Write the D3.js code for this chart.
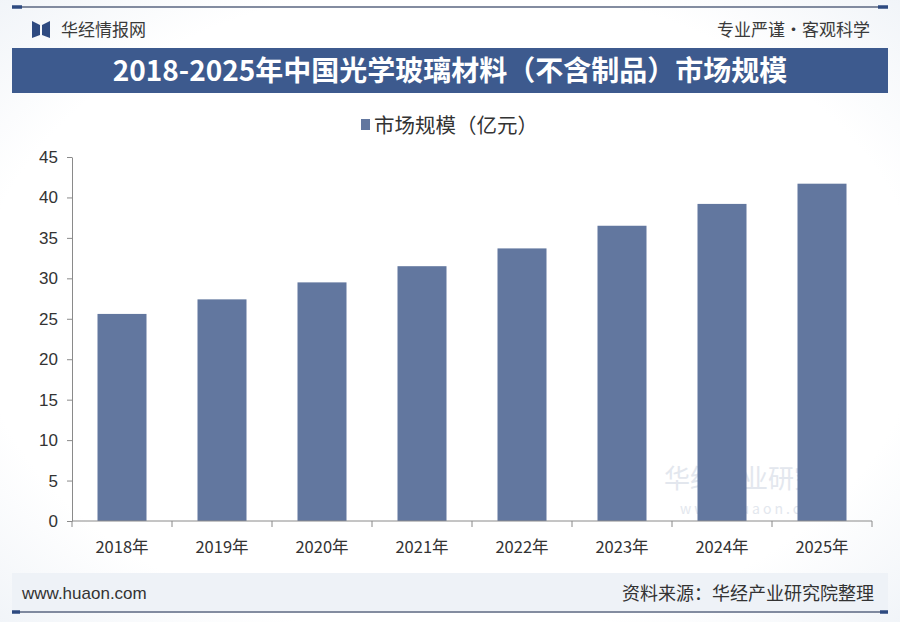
<!DOCTYPE html>
<html>
<head>
<meta charset="utf-8">
<script src="https://cdn.jsdelivr.net/npm/d3@7"></script>
<style>
  body { margin: 0; background: #ffffff; }
  svg { display: block; font-family: "Noto Sans CJK SC", "Noto Sans", sans-serif; }
</style>
</head>
<body>
<div id="chart"></div>
<script>
// data
const years = ["2018年", "2019年", "2020年", "2021年", "2022年", "2023年", "2024年", "2025年"];
const marketSize = [25.6, 27.4, 29.5, 31.5, 33.7, 36.5, 39.2, 41.7];
const yTicks = [0, 5, 10, 15, 20, 25, 30, 35, 40, 45];

const W = 900, H = 622;
const margin = { top: 157, right: 28, bottom: 101, left: 72 },
    width = W - margin.left - margin.right,
    height = H - margin.top - margin.bottom;

const svg = d3.select("#chart").append("svg")
    .attr("width", W)
    .attr("height", H);

// soft page background
const defs = svg.append("defs");
const grad = defs.append("radialGradient").attr("id", "bg").attr("r", "75%");
grad.append("stop").attr("offset", "70%").attr("stop-color", "#ffffff");
grad.append("stop").attr("offset", "100%").attr("stop-color", "#eef2f7");
svg.append("rect").attr("width", W).attr("height", H).attr("fill", "url(#bg)");

// top rule
svg.append("line").attr("x1", 12).attr("x2", 888).attr("y1", 7).attr("y2", 7)
    .attr("stroke", "#5a6680").attr("stroke-width", 1.5);
svg.append("line").attr("x1", 12).attr("x2", 22).attr("y1", 7).attr("y2", 7)
    .attr("stroke", "#2e4a80").attr("stroke-width", 3.5);
svg.append("line").attr("x1", 878).attr("x2", 888).attr("y1", 7).attr("y2", 7)
    .attr("stroke", "#2e4a80").attr("stroke-width", 3.5);

// logo
svg.append("path").attr("d", "M32,21 L40,25 L40,35 L32,38 Z").attr("fill", "#2e4a80");
svg.append("path").attr("d", "M50,21 L42,25 L42,35 L50,38 Z").attr("fill", "#2e4a80");
svg.append("text").attr("x", 61).attr("y", 35.5)
    .attr("font-size", 17).attr("fill", "#3a3a3a").text("华经情报网");
svg.append("text").attr("x", 870).attr("y", 35.5).attr("text-anchor", "end")
    .attr("font-size", 17).attr("fill", "#3a3a3a").text("专业严谨•客观科学");

// title band
svg.append("rect").attr("x", 12).attr("y", 48).attr("width", 876).attr("height", 45)
    .attr("fill", "#3d5a8e");
svg.append("text").attr("x", 450).attr("y", 80.5).attr("text-anchor", "middle")
    .attr("font-size", 28).attr("font-weight", "bold").attr("fill", "#ffffff")
    .text("2018-2025年中国光学玻璃材料（不含制品）市场规模");

// legend
svg.append("rect").attr("x", 361).attr("y", 119).attr("width", 9).attr("height", 11)
    .attr("fill", "#62779f");
svg.append("text").attr("x", 374).attr("y", 133)
    .attr("font-size", 20.5).attr("fill", "#333").text("市场规模（亿元）");

// watermark, kept clear of the axis labels
svg.append("text").attr("x", 755).attr("y", 488).attr("text-anchor", "middle")
    .attr("font-size", 26).attr("fill", "#e3e7ee").text("华经产业研究院");
svg.append("text").attr("x", 755).attr("y", 514).attr("text-anchor", "middle")
    .attr("font-size", 14).attr("letter-spacing", 3).attr("fill", "#e3e7ee")
    .text("www.huaon.com");

const g = svg.append("g").attr("transform", `translate(${margin.left},${margin.top})`);

// set the ranges
const x = d3.scaleBand().domain(years).range([0, width]).paddingInner(0.51).paddingOuter(0.255);
const y = d3.scaleLinear().domain([0, 45]).range([height, 0]);

g.selectAll(".bar")
    .data(years.map((d, i) => ({ year: d, value: marketSize[i] })))
  .enter().append("rect")
    .attr("class", "bar")
    .attr("x", d => x(d.year))
    .attr("y", d => y(d.value))
    .attr("width", x.bandwidth())
    .attr("height", d => height - y(d.value))
    .attr("fill", "#62779f");

// y axis
g.append("g")
    .call(d3.axisLeft(y).tickValues(yTicks).tickSize(5).tickSizeOuter(0))
    .call(a => a.select(".domain").attr("stroke", "#8a8a8a"))
    .call(a => a.selectAll(".tick line").attr("stroke", "#8a8a8a"))
    .call(a => a.selectAll(".tick text").attr("font-size", 17).attr("fill", "#333")
        .attr("font-family", "Liberation Sans, Arial, sans-serif").attr("x", -14));

// x axis with ticks between categories
const xAxis = g.append("g").attr("transform", `translate(0,${height})`);
xAxis.append("line").attr("x1", 0).attr("x2", width).attr("stroke", "#8a8a8a");
const step = x.step();
xAxis.selectAll(".sep")
    .data(d3.range(years.length + 1))
  .enter().append("line")
    .attr("x1", i => i * step).attr("x2", i => i * step)
    .attr("y1", 0).attr("y2", 6)
    .attr("stroke", "#8a8a8a");
xAxis.selectAll(".lbl")
    .data(years)
  .enter().append("text")
    .attr("x", d => x(d) + x.bandwidth() / 2)
    .attr("y", 32)
    .attr("text-anchor", "middle")
    .attr("font-size", 16.5)
    .attr("fill", "#333")
    .text(d => d);

// footer
svg.append("rect").attr("x", 12).attr("y", 573).attr("width", 876).attr("height", 38)
    .attr("fill", "#eef2f7");
svg.append("line").attr("x1", 12).attr("x2", 888).attr("y1", 612).attr("y2", 612)
    .attr("stroke", "#5a6680").attr("stroke-width", 1.5);
svg.append("line").attr("x1", 12).attr("x2", 20).attr("y1", 612).attr("y2", 612)
    .attr("stroke", "#2e4a80").attr("stroke-width", 3.5);
svg.append("line").attr("x1", 880).attr("x2", 888).attr("y1", 612).attr("y2", 612)
    .attr("stroke", "#2e4a80").attr("stroke-width", 3.5);
svg.append("text").attr("x", 22).attr("y", 599)
    .attr("font-size", 17).attr("fill", "#333")
    .attr("font-family", "Liberation Sans, Arial, sans-serif").text("www.huaon.com");
svg.append("text").attr("x", 874).attr("y", 600).attr("text-anchor", "end")
    .attr("font-size", 18).attr("fill", "#333").text("资料来源：华经产业研究院整理");
</script>
</body>
</html>
